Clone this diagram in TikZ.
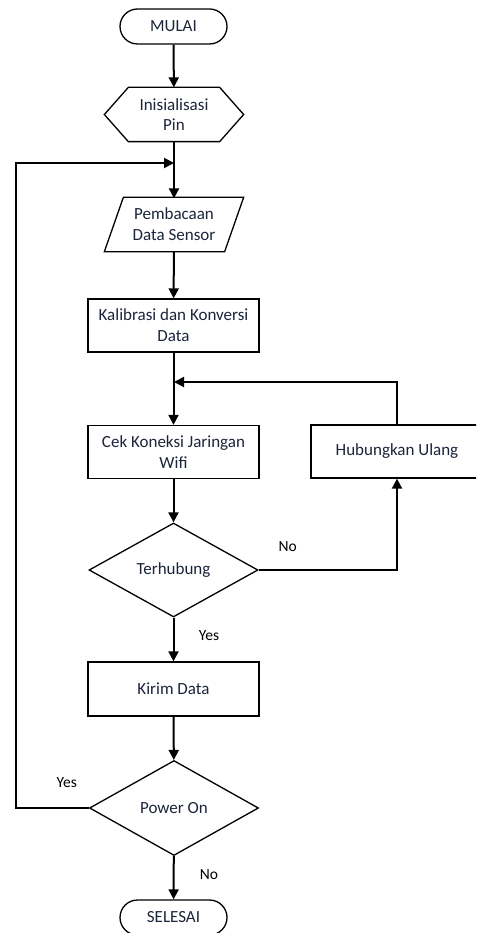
\documentclass[tikz,border=0pt]{standalone}
\usepackage{fontspec}
\setmainfont{Carlito}
\usetikzlibrary{shapes.geometric,shapes.misc,arrows.meta}
\definecolor{txt}{RGB}{28,36,58}
\begin{document}
\begin{tikzpicture}[x=1pt,y=-1pt,
  font=\fontsize{17}{20.7}\selectfont,
  base/.style={text=txt, align=center, inner sep=0pt, line width=1.3pt},
  term/.style={base, draw, rounded rectangle, minimum width=107pt, minimum height=35pt},
  plain/.style={base, minimum width=138pt, minimum height=53pt},
  proc/.style={base, draw, rectangle, minimum width=171pt, minimum height=53pt},
  dec/.style={base, draw, diamond, minimum width=169pt, minimum height=94pt},
  conn/.style={line width=2pt, -{Triangle[length=10pt,width=10pt]}},
  lbl/.style={text=black, inner sep=0pt, font=\fontsize{15.5}{18}\selectfont}
]
\useasboundingbox (0,0) rectangle (476,933);
\begin{scope}
\clip (0,0) rectangle (476,933);
\node[term] (start) at (173.5,26.5) {MULAI};
\node[plain] (init) at (174,114.5) {Inisialisasi\\Pin};
\draw[line width=1.3pt] (init.west) -- ([xshift=24pt]init.north west) -- ([xshift=-24pt]init.north east)
  -- (init.east) -- ([xshift=-24pt]init.south east) -- ([xshift=24pt]init.south west) -- cycle;
\node[plain] (read) at (174,224.5) {Pembacaan\\Data Sensor};
\draw[line width=1.3pt] ([xshift=19pt]read.north west) -- (read.north east)
  -- ([xshift=-19pt]read.south east) -- (read.south west) -- cycle;
\node[proc] (calib) at (173.5,325.5) {Kalibrasi dan Konversi\\Data};
\node[proc] (cek) at (173.5,452) {Cek Koneksi Jaringan\\Wifi};
\node[proc, minimum width=172pt] (hub) at (397,451.5) {Hubungkan Ulang};
\node[dec] (terh) at (173.5,570) {Terhubung};
\node[proc, minimum height=54pt] (kirim) at (173.5,689) {Kirim Data};
\node[dec, minimum height=95pt] (power) at (174,808) {Power On};
\node[term] (end) at (173.5,917.5) {SELESAI};

\node[lbl] (lno1) at ([xshift=29pt,yshift=23pt]terh.east) {No};
\node[lbl] (lyes1) at ([xshift=35.5pt,yshift=-18pt]terh.south) {Yes};
\node[lbl] (lno2) at ([xshift=35pt,yshift=-18pt]power.south) {No};
\node[lbl] (lyes2) at ([xshift=-22pt,yshift=25pt]power.west) {Yes};

\coordinate (m1) at (174,163);
\coordinate (m2) at (174,382);
\coordinate (lx) at (16,163);

\draw[conn] (start) -- (init);
\draw[conn] (init.south) -- ([yshift=-1pt]read.north);
\draw[conn] (read) -- (calib);
\draw[conn] (calib) -- (cek);
\draw[conn] (cek) -- (terh);
\draw[conn] (terh) -- (kirim);
\draw[conn] (kirim) -- (power);
\draw[conn] (power) -- (end);
\draw[conn] (terh.east) -| (hub.south);
\draw[conn] (hub.north) |- (m2);
\draw[conn] (power.west) -| (lx) -- (m1);
\end{scope}
\end{tikzpicture}
\end{document}
